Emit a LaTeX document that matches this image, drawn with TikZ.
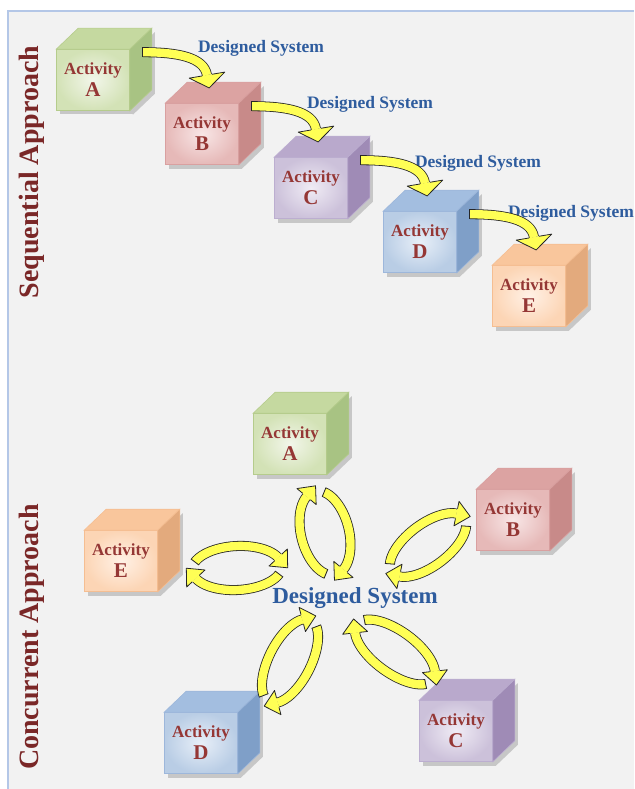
\documentclass[tikz,border=0pt]{standalone}
\usepackage{fontspec}
\setmainfont{Liberation Serif}
\usetikzlibrary{calc, decorations.markings}

\definecolor{panelgray}{HTML}{F2F2F2}
\definecolor{framecol}{HTML}{B4C7E7}
\definecolor{flowyellow}{HTML}{FFFF55}
\definecolor{acttext}{HTML}{953735}
\definecolor{dstext}{HTML}{2E5C9E}
\definecolor{sidetext}{HTML}{7A2727}
\definecolor{grnin}{HTML}{F2F6EA}\definecolor{grnfront}{HTML}{D3E2B6}\definecolor{grntop}{HTML}{C5D9A0}\definecolor{grnside}{HTML}{A8C383}\definecolor{grnedge}{HTML}{B5CC8C}
\definecolor{redin}{HTML}{F8E6E6}\definecolor{redfront}{HTML}{E6B9B8}\definecolor{redtop}{HTML}{DCA3A2}\definecolor{redside}{HTML}{C88A89}\definecolor{rededge}{HTML}{D9A0A0}
\definecolor{purin}{HTML}{F0ECF5}\definecolor{purfront}{HTML}{CCC1DA}\definecolor{purtop}{HTML}{B9A9CC}\definecolor{purside}{HTML}{9F8BB6}\definecolor{puredge}{HTML}{BCAED0}
\definecolor{bluin}{HTML}{E8EFF8}\definecolor{blufront}{HTML}{B9CDE5}\definecolor{blutop}{HTML}{A3BEE0}\definecolor{bluside}{HTML}{7F9FC8}\definecolor{bluedge}{HTML}{9DB7DB}
\definecolor{orgin}{HTML}{FFF1E6}\definecolor{orgfront}{HTML}{FCD5B5}\definecolor{orgtop}{HTML}{F9C69C}\definecolor{orgside}{HTML}{E3AA7D}\definecolor{orgedge}{HTML}{F5BE92}

\newcommand\flowtail{\draw[flowline] (0,-5) -- (0,5);}
\newcommand\flowhead[2]{%
  \fill[flowyellow] (0,-#1) -- (#2,0) -- (0,#1) -- cycle;
  \draw[flowline] (0,-5) -- (0,-#1) -- (#2,0) -- (0,#1) -- (0,5);}

\tikzset{
  flowline/.style={draw=black!85, line width=0.8pt, line join=round},
  flowband/.style={draw=black!85, line width=0.8pt, double=flowyellow, double distance=8.4pt},
  seqflow/.style={flowband, postaction={decorate, decoration={markings,
      mark=at position 0 with {\flowtail}, mark=at position 0.999 with {\flowhead{18}{13}}}}},
  loopflow/.style={flowband, postaction={decorate, decoration={markings,
      mark=at position 0 with {\flowtail}, mark=at position 0.999 with {\flowhead{12.5}{14}}}}},
  actbox/.style={rectangle, minimum width=73pt, minimum height=61pt, inner sep=0pt,
    line width=0.6pt, align=center, text=acttext, font=\bfseries\fontsize{17}{22}\selectfont,
    preaction={fill=black!22, transform canvas={shift={(3pt,-4pt)}}}},
  dslabel/.style={text=dstext, inner sep=0pt, font=\bfseries\fontsize{17.5}{20}\selectfont},
  approach/.style={rotate=90, text=sidetext, inner sep=0pt, font=\bfseries\fontsize{28}{30}\selectfont}
}

\newcommand\actcube[4]{%
  \node[actbox, draw=#3edge, inner color=#3in, outer color=#3front] (#1) at (#2) {Activity\\{\fontsize{21}{22}\selectfont #4}};
  \fill[#3top, draw=#3edge, line width=0.6pt] (#1.north west) -- ($(#1.north west)+(22,-21)$)
    -- ($(#1.north east)+(22,-21)$) -- (#1.north east) -- cycle;
  \fill[#3side, draw=#3edge, line width=0.6pt, preaction={fill=black!22, transform canvas={shift={(3pt,-4pt)}}}]
    (#1.north east) -- ($(#1.north east)+(22,-21)$) -- ($(#1.south east)+(22,-21)$) -- (#1.south east) -- cycle;
}

\begin{document}
\begin{tikzpicture}[x=1pt, y=-1pt]
\useasboundingbox (0,0) rectangle (634,789);
\fill[white] (0,0) rectangle (634,789);
\fill[panelgray] (7,11) rectangle (634,789);
\draw[framecol, line width=2pt] (7.5,789) -- (7.5,11.5) -- (634,11.5);

\node[approach] (seqtitle) at (32,172) {Sequential Approach};
\node[approach] (contitle) at (32,637) {Concurrent Approach};

\actcube{sa}{93,80}{grn}{A}
\actcube{sb}{202,134}{red}{B}
\actcube{sc}{311,188}{pur}{C}
\actcube{sd}{420,242}{blu}{D}
\actcube{se}{529,296}{org}{E}

\node[dslabel] (ds1) at (261,48) {Designed System};
\node[dslabel] (ds2) at (370,104) {Designed System};
\node[dslabel] (ds3) at (478,163) {Designed System};
\node[dslabel] (ds4) at (571,213) {Designed System};

\foreach \p/\q in {sa/sb, sb/sc, sc/sd, sd/se}
  \draw[seqflow] ($(\p.north east)+(13,3)$) .. controls +(35,0) and +(-3,-18) .. ($(\q.north)+(5,-28)$);

\actcube{ca}{290,444}{grn}{A}
\actcube{cb}{513,520}{red}{B}
\actcube{cc}{456,731}{pur}{C}
\actcube{cd}{201,743}{blu}{D}
\actcube{ce}{121,561}{org}{E}

\node[dslabel, font=\bfseries\fontsize{23}{26}\selectfont] (ds) at (355,598) {Designed System};

\foreach \cx/\cy/\rot/\ra/\rb in {325/533/104/43/24, 428/545/37/45/21, 395/652/-36/47/21, 290/661/63/46/21, 237/568/3/45/22}
{
  \begin{scope}[shift={(\cx,\cy)}, rotate=\rot]
    \draw[loopflow] ({\ra*cos(22)},{\rb*sin(22)}) arc[start angle=22, end angle=158, x radius=\ra, y radius=\rb];
    \draw[loopflow] ({\ra*cos(202)},{\rb*sin(202)}) arc[start angle=202, end angle=338, x radius=\ra, y radius=\rb];
  \end{scope}
}
\end{tikzpicture}
\end{document}
